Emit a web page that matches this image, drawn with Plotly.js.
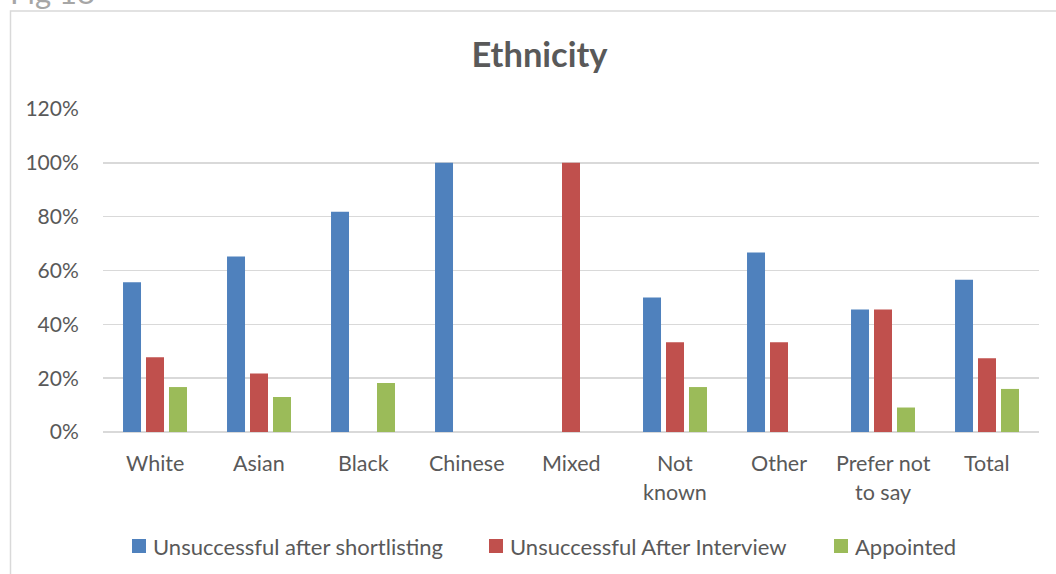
<!DOCTYPE html>
<html>
<head>
<meta charset="utf-8">
<script src="https://cdn.plot.ly/plotly-3.0.1.min.js"></script>
<style>
  html, body { margin: 0; padding: 0; background: #ffffff; }
  #chart { width: 1056px; height: 574px; }
</style>
</head>
<body>
<div id="chart"></div>
<script>
// Outcome shares by ethnic group
const categories = ["White", "Asian", "Black", "Chinese", "Mixed", "Not known", "Other", "Prefer not to say", "Total"];
// label lines under each category
const categoryLines = [["White"], ["Asian"], ["Black"], ["Chinese"], ["Mixed"], ["Not", "known"], ["Other"], ["Prefer not", "to say"], ["Total"]];

const seriesNames = ["Unsuccessful after shortlisting", "Unsuccessful After Interview", "Appointed"];
const shortlisting = [0.556, 0.652, 0.818, 1.000, 0.000, 0.500, 0.667, 0.455, 0.566];
const afterInterview = [0.278, 0.217, 0.000, 0.000, 1.000, 0.333, 0.333, 0.455, 0.274];
const appointed = [0.167, 0.130, 0.182, 0.000, 0.000, 0.167, 0.000, 0.091, 0.160];

const seriesColors = ["#4F81BD", "#C0504D", "#9BBB59"];
const yTicks = [0, 0.2, 0.4, 0.6, 0.8, 1.0, 1.2];
const yTickText = ["0%", "20%", "40%", "60%", "80%", "100%", "120%"];

const FONT = "Lato, 'Open Sans', sans-serif";
const TEXT_GREY = "#595959";

// plot box in pixels (margins below) for converting pixel offsets to paper units
const W = 1056, H = 574;
const M = { l: 103, r: 17, t: 109, b: 142 };
const plotW = W - M.l - M.r, plotH = H - M.t - M.b;
const px = v => (v - M.l) / plotW;
const py = v => (H - M.b - v) / plotH;

const seriesValues = [shortlisting, afterInterview, appointed];
const traces = seriesValues.map((vals, i) => ({
  type: "bar",
  name: seriesNames[i],
  x: categories,
  y: vals,
  marker: { color: seriesColors[i], line: { width: 0 } },
  showlegend: false,
  hoverinfo: "x+y+name"
}));

const annotations = [];
const shapes = [];

// category labels, one annotation per line so the line spacing can be set
categoryLines.forEach((lines, ci) => {
  lines.forEach((line, li) => {
    annotations.push({
      x: categories[ci], xref: "x",
      y: 0, yref: "paper",
      yanchor: "middle",
      yshift: -31 - li * 29,
      text: line,
      showarrow: false,
      font: { family: FONT, size: 21.5, color: TEXT_GREY }
    });
  });
});

// legend row: colour key square followed by the series name
const legendLeft = [132, 489, 834];
const legendMidY = 546;
seriesNames.forEach((name, i) => {
  shapes.push({
    type: "rect", xref: "paper", yref: "paper",
    x0: px(legendLeft[i]), x1: px(legendLeft[i] + 14),
    y0: py(legendMidY + 7), y1: py(legendMidY - 7),
    line: { width: 0 }, fillcolor: seriesColors[i]
  });
  annotations.push({
    x: px(legendLeft[i] + 19), xref: "paper", xanchor: "left",
    y: py(legendMidY), yref: "paper", yanchor: "middle",
    text: name, showarrow: false,
    font: { family: FONT, size: 22, color: TEXT_GREY }
  });
});

// figure number above the frame
annotations.push({
  x: px(8), xref: "paper", xanchor: "left",
  y: py(-8), yref: "paper", yanchor: "middle",
  text: "Fig 18",
  showarrow: false,
  font: { family: FONT, size: 31, color: "#a6a6a6" }
});

// chart frame
shapes.push({
  type: "rect",
  xref: "paper", yref: "paper",
  x0: px(10.5), x1: px(1070),
  y0: py(600), y1: py(11),
  line: { color: "#d9d9d9", width: 1.5 },
  fillcolor: "rgba(0,0,0,0)",
  layer: "below"
});

const layout = {
  width: W,
  height: H,
  margin: { l: M.l, r: M.r, t: M.t, b: M.b, pad: 0 },
  paper_bgcolor: "#ffffff",
  plot_bgcolor: "#ffffff",
  title: {
    text: "<b>Ethnicity</b>",
    x: 539.5 / W, xref: "container", xanchor: "center",
    y: 1 - 55 / H, yref: "container", yanchor: "middle",
    font: { family: FONT, size: 34.5, color: TEXT_GREY }
  },
  barmode: "group",
  bargap: 0.337,
  bargroupgap: 0.217,
  xaxis: {
    type: "category",
    showticklabels: false,
    showgrid: false,
    showline: false,
    zeroline: false,
    ticks: ""
  },
  yaxis: {
    range: [0, 1.2],
    tickvals: yTicks,
    ticktext: yTickText,
    showgrid: true,
    gridcolor: "#d9d9d9",
    gridwidth: 1.4,
    zeroline: true,
    zerolinecolor: "#d9d9d9",
    zerolinewidth: 1.4,
    showline: false,
    ticks: "outside",
    ticklen: 19,
    tickcolor: "rgba(0,0,0,0)",
    tickfont: { family: FONT, size: 21, color: TEXT_GREY },
    fixedrange: true
  },
  showlegend: false,
  shapes: shapes,
  annotations: annotations
};

Plotly.newPlot("chart", traces, layout, { displayModeBar: false, staticPlot: true });
</script>
</body>
</html>
